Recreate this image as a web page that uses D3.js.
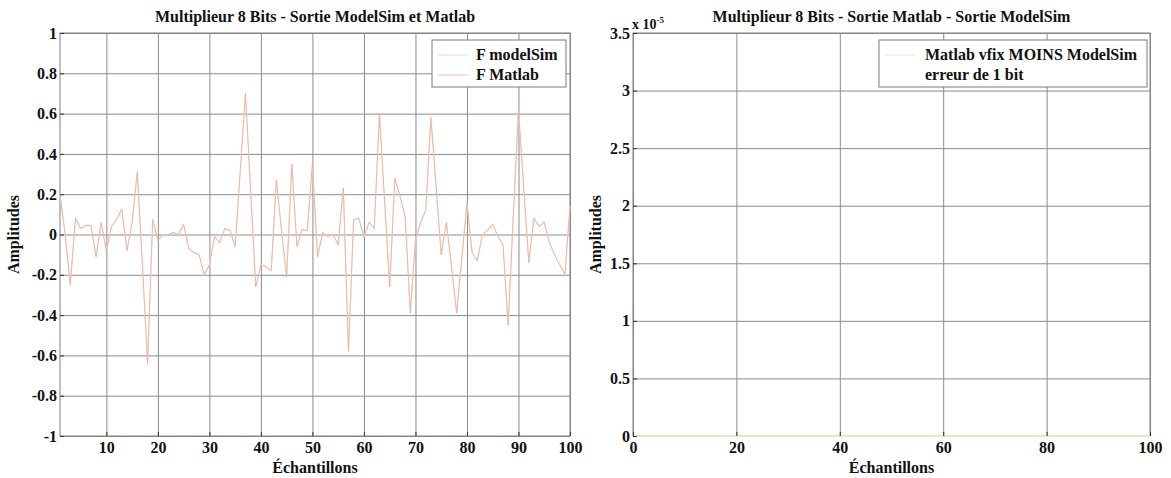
<!DOCTYPE html>
<html>
<head>
<meta charset="utf-8">
<script src="https://cdn.jsdelivr.net/npm/d3@7"></script>
<style>
  body { margin: 0; background: #fff; }
  svg { display: block; font-family: "Liberation Serif", "DejaVu Serif", serif; font-weight: bold; }
</style>
</head>
<body>
<svg id="chart" width="1171" height="478"></svg>
<script>
// samples 1..100
const fModelSim = [
  0.20, 0.00, -0.25, 0.08, 0.03, 0.045, 0.045, -0.11, 0.06, -0.08,
  0.04, 0.075, 0.125, -0.08, 0.06, 0.31, -0.15, -0.64, 0.075, -0.03,
  0.00, 0.00, 0.01, 0.00, 0.05, -0.07, -0.09, -0.10, -0.20, -0.15,
  -0.01, -0.04, 0.03, 0.02, -0.06, 0.32, 0.70, 0.22, -0.26, -0.15,
  -0.16, -0.18, 0.27, 0.02, -0.21, 0.35, -0.06, 0.025, 0.02, 0.35,
  -0.11, 0.01, -0.01, 0.00, -0.05, 0.23, -0.58, 0.075, 0.08, -0.01,
  0.06, 0.03, 0.60, 0.17, -0.26, 0.28, 0.19, 0.09, -0.39, -0.025,
  0.06, 0.12, 0.58, 0.24, -0.10, 0.06, -0.16, -0.39, -0.12, 0.157,
  -0.09, -0.13, 0.00, 0.02, 0.05, -0.01, -0.05, -0.45, 0.10, 0.62,
  0.24, -0.14, 0.08, 0.04, 0.06, -0.04, -0.10, -0.15, -0.20, 0.14
];
const fMatlab = [
  0.20, 0.00, -0.25, 0.08, 0.03, 0.045, 0.045, -0.11, 0.06, -0.08,
  0.04, 0.075, 0.125, -0.08, 0.06, 0.31, -0.15, -0.64, 0.075, -0.03,
  0.00, 0.00, 0.01, 0.00, 0.05, -0.07, -0.09, -0.10, -0.20, -0.15,
  -0.01, -0.04, 0.03, 0.02, -0.06, 0.32, 0.70, 0.22, -0.26, -0.15,
  -0.16, -0.18, 0.27, 0.02, -0.21, 0.35, -0.06, 0.025, 0.02, 0.35,
  -0.11, 0.01, -0.01, 0.00, -0.05, 0.23, -0.58, 0.075, 0.08, -0.01,
  0.06, 0.03, 0.60, 0.17, -0.26, 0.28, 0.19, 0.09, -0.39, -0.025,
  0.06, 0.12, 0.58, 0.24, -0.10, 0.06, -0.16, -0.39, -0.12, 0.157,
  -0.09, -0.13, 0.00, 0.02, 0.05, -0.01, -0.05, -0.45, 0.10, 0.62,
  0.24, -0.14, 0.08, 0.04, 0.06, -0.04, -0.10, -0.15, -0.20, 0.14
];
// difference Matlab - ModelSim, samples 0..100
const diffValues = [
  0, 0, 0, 0, 0, 0, 0, 0, 0, 0, 0, 0, 0, 0, 0, 0, 0, 0, 0, 0,
  0, 0, 0, 0, 0, 0, 0, 0, 0, 0, 0, 0, 0, 0, 0, 0, 0, 0, 0, 0,
  0, 0, 0, 0, 0, 0, 0, 0, 0, 0, 0, 0, 0, 0, 0, 0, 0, 0, 0, 0,
  0, 0, 0, 0, 0, 0, 0, 0, 0, 0, 0, 0, 0, 0, 0, 0, 0, 0, 0, 0,
  0, 0, 0, 0, 0, 0, 0, 0, 0, 0, 0, 0, 0, 0, 0, 0, 0, 0, 0, 0, 0
];

const leftXTicks = [10, 20, 30, 40, 50, 60, 70, 80, 90, 100];
const leftYTicks = [-1, -0.8, -0.6, -0.4, -0.2, 0, 0.2, 0.4, 0.6, 0.8, 1];
const rightXTicks = [0, 20, 40, 60, 80, 100];
const rightYTicks = [0, 0.5e-5, 1e-5, 1.5e-5, 2e-5, 2.5e-5, 3e-5, 3.5e-5];

const svg = d3.select("#chart");

function drawPanel(opt) {
  const { left, right, top, bottom } = opt;
  const x = d3.scaleLinear().domain(opt.xDomain).range([left, right]);
  const y = d3.scaleLinear().domain(opt.yDomain).range([bottom, top]);
  const g = svg.append("g");

  // grid
  g.append("g")
    .attr("transform", `translate(0,${bottom})`)
    .call(d3.axisBottom(x).tickValues(opt.xTicks).tickSize(-(bottom - top)).tickFormat(""))
    .call(a => a.select(".domain").remove())
    .call(a => a.selectAll("line").attr("stroke", "#8c8c8c"));
  g.append("g")
    .attr("transform", `translate(${left},0)`)
    .call(d3.axisLeft(y).tickValues(opt.yTicks).tickSize(-(right - left)).tickFormat(""))
    .call(a => a.select(".domain").remove())
    .call(a => a.selectAll("line").attr("stroke", "#8c8c8c"));

  // box
  g.append("rect")
    .attr("x", left).attr("y", top)
    .attr("width", right - left).attr("height", bottom - top)
    .attr("fill", "none").attr("stroke", "#808080");

  // series
  opt.series.forEach(s => {
    const line = d3.line()
      .x((d, i) => x(i + opt.xStart))
      .y(d => y(d));
    g.append("path")
      .datum(s.values)
      .attr("fill", "none")
      .attr("stroke", s.color)
      .attr("stroke-width", s.width)
      .attr("d", line);
  });

  // tick labels
  const xAxis = g.append("g")
    .attr("transform", `translate(0,${bottom})`)
    .call(d3.axisBottom(x).tickValues(opt.xTicks).tickSize(-4).tickPadding(6).tickFormat(opt.xFormat));
  const yAxis = g.append("g")
    .attr("transform", `translate(${left},0)`)
    .call(d3.axisLeft(y).tickValues(opt.yTicks).tickSize(-4).tickPadding(3).tickFormat(opt.yFormat));
  [xAxis, yAxis].forEach(a => {
    a.select(".domain").remove();
    a.selectAll("line").attr("stroke", "#333");
    a.selectAll("text")
      .attr("fill", "#111")
      .style("font-family", "'Liberation Serif', serif")
      .style("font-weight", "bold")
      .style("font-size", "16px");
  });

  // title + axis labels
  g.append("text")
    .attr("x", (left + right) / 2).attr("y", 22)
    .attr("text-anchor", "middle")
    .style("font-size", "16px")
    .attr("fill", "#111")
    .text(opt.title);
  g.append("text")
    .attr("x", (left + right) / 2).attr("y", 473)
    .attr("text-anchor", "middle")
    .style("font-size", "16px")
    .attr("fill", "#111")
    .text("Échantillons");
  g.append("text")
    .attr("transform", `translate(${opt.yLabelX},${(top + bottom) / 2}) rotate(-90)`)
    .attr("text-anchor", "middle")
    .style("font-size", "16px")
    .attr("fill", "#111")
    .text("Amplitudes");

  // legend
  const L = opt.legend;
  g.append("rect")
    .attr("x", L.x).attr("y", L.y).attr("width", L.w).attr("height", L.h)
    .attr("fill", "#fff").attr("stroke", "#7a7a7a");
  L.rows.forEach((r, i) => {
    const ry = L.y + 15 + i * 20;
    if (r.color) {
      g.append("line")
        .attr("x1", L.x + 6).attr("x2", L.x + 36)
        .attr("y1", ry).attr("y2", ry)
        .attr("stroke", r.color).attr("stroke-width", 1.2);
    }
    g.append("text")
      .attr("x", L.x + L.textDx).attr("y", ry + 5)
      .style("font-size", "16px")
      .attr("fill", "#111")
      .text(r.label);
  });

  return { x, y, g };
}

const leftPanel = drawPanel({
  left: 60, right: 570, top: 33, bottom: 436,
  xDomain: [1, 100], yDomain: [-1, 1], xStart: 1,
  xTicks: leftXTicks, yTicks: leftYTicks,
  xFormat: d3.format("d"), yFormat: d => String(+d.toFixed(1)),
  title: "Multiplieur 8 Bits - Sortie ModelSim et Matlab",
  yLabelX: 19,
  series: [
    { values: fModelSim, color: "#f5d6c4", width: 1.2 },
    { values: fMatlab, color: "rgba(230,168,152,0.6)", width: 1 }
  ],
  legend: {
    x: 432, y: 40, w: 134, h: 47, textDx: 44,
    rows: [
      { label: "F modelSim", color: "#ebe0d8" },
      { label: "F Matlab", color: "#efc8bc" }
    ]
  }
});

const rightPanel = drawPanel({
  left: 633, right: 1150, top: 33, bottom: 436,
  xDomain: [0, 100], yDomain: [0, 3.5e-5], xStart: 0,
  xTicks: rightXTicks, yTicks: rightYTicks,
  xFormat: d3.format("d"), yFormat: d => String(+(d * 1e5).toFixed(2)),
  title: "Multiplieur 8 Bits - Sortie Matlab - Sortie ModelSim",
  yLabelX: 601,
  series: [
    { values: diffValues, color: "#e3ecc0", width: 2 }
  ],
  legend: {
    x: 879, y: 40, w: 268, h: 47, textDx: 46,
    rows: [
      { label: "Matlab vfix MOINS ModelSim", color: "#e6ead8" },
      { label: "erreur de 1 bit", color: null }
    ]
  }
});

// exponent label above the right y axis
const expo = svg.append("text")
  .attr("x", 632).attr("y", 29)
  .style("font-size", "14px")
  .attr("fill", "#111");
expo.append("tspan").text("x 10");
expo.append("tspan").attr("dy", -6).style("font-size", "9px").text("-5");
</script>
</body>
</html>
